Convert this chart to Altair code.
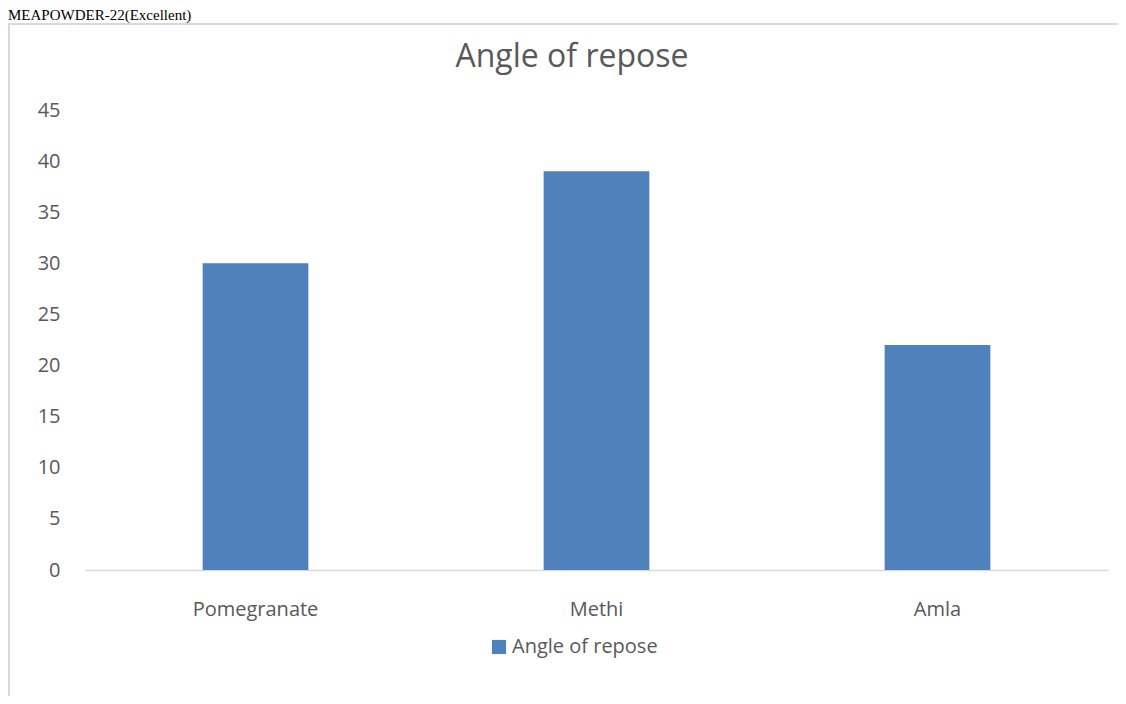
import altair as alt
import pandas as pd

categories = ["Pomegranate", "Methi", "Amla"]
values = [30, 39, 22]
series_name = "Angle of repose"
y_ticks = [0, 5, 10, 15, 20, 25, 30, 35, 40, 45]

df = pd.DataFrame({"Powder": categories, "Value": values, "Series": [series_name] * len(categories)})

FONT = "Open Sans"
GREY = "#595959"

bars = alt.Chart(df).mark_bar(color="#4F81BD").encode(
    x=alt.X("Powder:N", sort=categories, title=None,
            scale=alt.Scale(paddingInner=0.69, paddingOuter=0.345),
            axis=alt.Axis(labelAngle=0, labelFontSize=20, labelColor=GREY, labelFont=FONT,
                          ticks=False, domainColor="#D9D9D9", domainWidth=1.5, labelPadding=29)),
    y=alt.Y("Value:Q", title=None,
            scale=alt.Scale(domain=[0, 45], nice=False),
            axis=alt.Axis(values=y_ticks, grid=False, domain=False, ticks=False,
                          labelFontSize=20, labelColor=GREY, labelFont=FONT, labelPadding=25)),
    fill=alt.Fill("Series:N", scale=alt.Scale(range=["#4F81BD"]),
                  legend=alt.Legend(title=None, orient="none", legendX=404, legendY=527,
                                    symbolType="square", symbolSize=200, symbolStrokeWidth=0,
                                    labelFontSize=20, labelColor=GREY, labelFont=FONT,
                                    labelOffset=3)),
)

title_txt = alt.Chart(pd.DataFrame({"t": ["Angle of repose"]})).mark_text(
    fontSize=32, color=GREY, font=FONT, align="center", baseline="middle"
).encode(text="t:N", x=alt.value(487), y=alt.value(-53))

doc_txt = alt.Chart(pd.DataFrame({"t": ["MEAPOWDER-22(Excellent)"]})).mark_text(
    fontSize=15, color="#000000", font="Liberation Serif", align="left", baseline="alphabetic"
).encode(text="t:N", x=alt.value(-77), y=alt.value(-90))

frame_top = alt.Chart(pd.DataFrame({"a": [0]})).mark_rule(color="#D9D9D9", strokeWidth=2).encode(
    x=alt.value(-77), x2=alt.value(1041), y=alt.value(-86))
frame_left = alt.Chart(pd.DataFrame({"a": [0]})).mark_rule(color="#D9D9D9", strokeWidth=2).encode(
    x=alt.value(-76), y=alt.value(-86), y2=alt.value(600))

chart = alt.layer(frame_top, frame_left, doc_txt, title_txt, bars).properties(
    width=1023, height=460,
    padding={"left": 77, "top": 102, "right": 10, "bottom": 126},
    autosize=alt.AutoSizeParams(type="none"),
).configure(background="white").configure_view(stroke=None)

chart.save("out.html", embed_options={"renderer": "svg", "actions": False})
